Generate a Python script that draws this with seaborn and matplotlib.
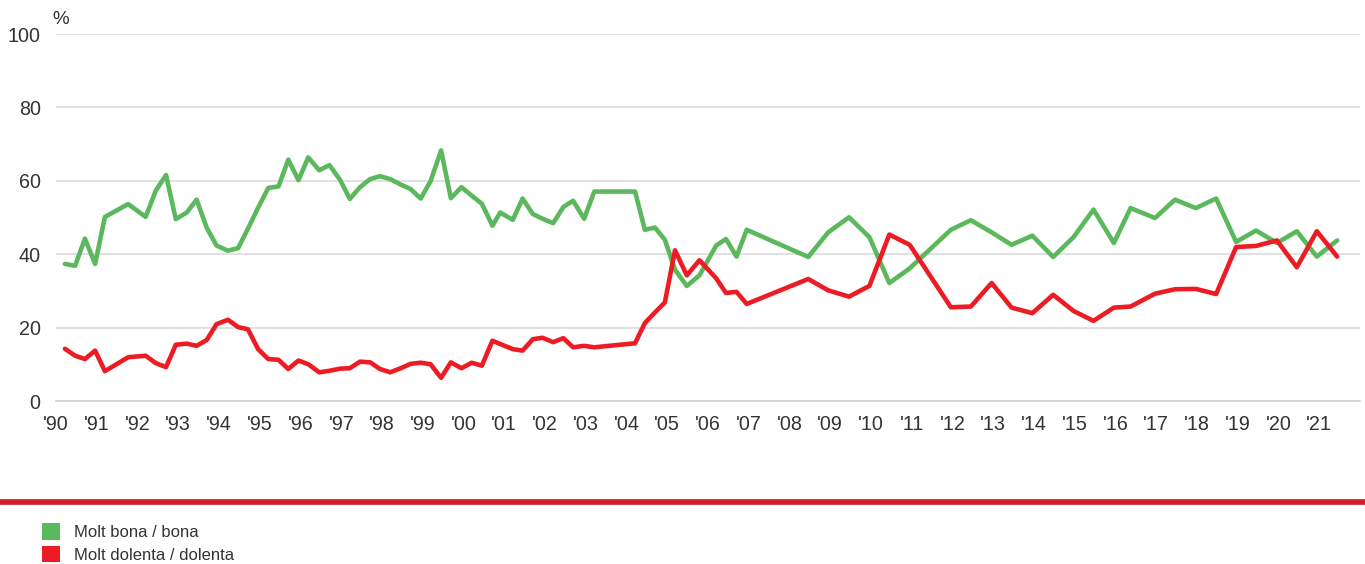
import matplotlib
matplotlib.use("Agg")
import matplotlib.pyplot as plt
import numpy as np
import pandas as pd
import seaborn as sns
from matplotlib.patches import Patch
from matplotlib.lines import Line2D

# --- data ---
periods = [
    1990.22, 1990.47, 1990.71, 1990.96, 1991.20, 1991.77, 1992.20, 1992.45, 1992.70, 1992.94,
    1993.21, 1993.45, 1993.70, 1993.94, 1994.22, 1994.47, 1994.71, 1994.96, 1995.21, 1995.46,
    1995.70, 1995.95, 1996.19, 1996.46, 1996.71, 1996.97, 1997.21, 1997.46, 1997.71, 1997.95,
    1998.20, 1998.46, 1998.70, 1998.95, 1999.19, 1999.45, 1999.69, 1999.95, 2000.20, 2000.45,
    2000.71, 2000.90, 2001.21, 2001.45, 2001.70, 2001.94, 2002.20, 2002.45, 2002.69, 2002.96,
    2003.21, 2004.21, 2004.45, 2004.70, 2004.94, 2005.19, 2005.48, 2005.79, 2006.20, 2006.44,
    2006.70, 2006.95, 2008.46, 2008.95, 2009.46, 2009.96, 2010.45, 2010.95, 2011.96, 2012.45,
    2012.96, 2013.45, 2013.96, 2014.47, 2014.97, 2015.46, 2015.96, 2016.37, 2016.97, 2017.46,
    2017.97, 2018.47, 2018.96, 2019.45, 2019.96, 2020.45, 2020.94, 2021.44,
]
molt_bona = [
    37.4, 36.9, 44.3, 37.4, 50.2, 53.7, 50.2, 57.4, 61.6, 49.6,
    51.4, 54.9, 47.2, 42.4, 41.0, 41.7, 47.0, 52.7, 58.1, 58.5,
    65.8, 60.2, 66.4, 62.9, 64.3, 60.3, 55.1, 58.3, 60.5, 61.3,
    60.5, 59.0, 57.8, 55.2, 59.9, 68.3, 55.3, 58.3, 56.0, 53.8,
    47.8, 51.4, 49.4, 55.2, 51.0, 49.7, 48.5, 52.9, 54.6, 49.7,
    57.1, 57.1, 46.7, 47.3, 44.0, 35.8, 31.4, 34.3, 42.4, 44.2,
    39.4, 46.7, 39.3, 46.0, 50.1, 44.7, 32.2, 36.2, 46.7, 49.3,
    46.0, 42.6, 45.1, 39.3, 44.7, 52.2, 43.1, 52.6, 49.9, 54.9,
    52.6, 55.2, 43.4, 46.5, 43.1, 46.3, 39.4, 43.8,
]
molt_dolenta = [
    14.3, 12.4, 11.5, 13.8, 8.2, 12.0, 12.4, 10.4, 9.3, 15.4,
    15.7, 15.1, 16.7, 21.0, 22.2, 20.2, 19.6, 14.2, 11.5, 11.3,
    8.8, 11.1, 10.1, 7.9, 8.3, 8.9, 9.0, 10.8, 10.6, 8.8,
    7.9, 9.0, 10.2, 10.5, 10.1, 6.4, 10.6, 9.0, 10.5, 9.7,
    16.5, 15.6, 14.2, 13.8, 16.9, 17.3, 16.1, 17.2, 14.7, 15.1,
    14.7, 15.8, 21.3, 24.2, 26.9, 41.1, 34.3, 38.4, 33.5, 29.5,
    29.8, 26.5, 33.3, 30.2, 28.5, 31.4, 45.4, 42.6, 25.6, 25.8,
    32.2, 25.5, 24.0, 29.0, 24.6, 21.9, 25.5, 25.8, 29.3, 30.5,
    30.6, 29.2, 42.0, 42.3, 43.8, 36.5, 46.3, 39.4,
]
series_names = ["Molt bona / bona", "Molt dolenta / dolenta"]
series_colors = ["#5cb85c", "#ed1c24"]
year_ticks = list(range(1990, 2023))
year_labels = ["'%02d" % (y % 100) for y in range(1990, 2022)] + [""]
y_ticks = [0, 20, 40, 60, 80, 100]

df = pd.concat([
    pd.DataFrame({"period": periods, "value": molt_bona, "series": series_names[0]}),
    pd.DataFrame({"period": periods, "value": molt_dolenta, "series": series_names[1]}),
])

# --- style ---
sns.set_style("white")
plt.rcParams["font.family"] = ["Liberation Sans", "DejaVu Sans"]
plt.rcParams["text.color"] = "#333333"

fig = plt.figure(figsize=(13.65, 5.64), dpi=100)
ax = fig.add_axes([56 / 1365, 1 - 401.3 / 564, (1360 - 56) / 1365, (401.3 - 34) / 564])

sns.lineplot(data=df, x="period", y="value", hue="series", palette=series_colors,
             hue_order=series_names, estimator=None, sort=False, linewidth=3.3,
             legend=False, ax=ax)

ax.set_xlim(1990, 2022)
ax.set_ylim(0, 100)
ax.set_xticks(year_ticks)
ax.set_xticklabels(year_labels)
ax.set_yticks(y_ticks)
ax.set_xlabel("")
ax.set_ylabel("")
ax.grid(axis="y", color="#dcdcdc", linewidth=1.2)
ax.set_axisbelow(True)
for side in ["left", "right", "top"]:
    ax.spines[side].set_visible(False)
ax.spines["bottom"].set_color("#d0d0d0")
ax.spines["bottom"].set_linewidth(1.2)
ax.tick_params(axis="x", length=5, width=1.2, color="#d0d0d0", labelsize=14.2,
               labelcolor="#333333", pad=5)
ax.tick_params(axis="y", length=0, labelsize=14.2, labelcolor="#333333", pad=11)

fig.text(52 / 1365, 1 - 19 / 564, "%", fontsize=13.5, va="center", ha="left")

# red separator
fig.add_artist(Line2D([0, 1], [1 - 502 / 564] * 2, transform=fig.transFigure,
                      color="#d2202a", linewidth=4.1))

handles = [Patch(facecolor=c, edgecolor="none") for c in series_colors]
fig.legend(handles, series_names, loc="upper left", bbox_to_anchor=(42 / 1365, 1 - 523 / 564),
           frameon=False, fontsize=12, handlelength=1.1, handleheight=1.15,
           handletextpad=0.85, labelspacing=0.35, borderpad=0, borderaxespad=0)

fig.savefig("out.png", dpi=100)
